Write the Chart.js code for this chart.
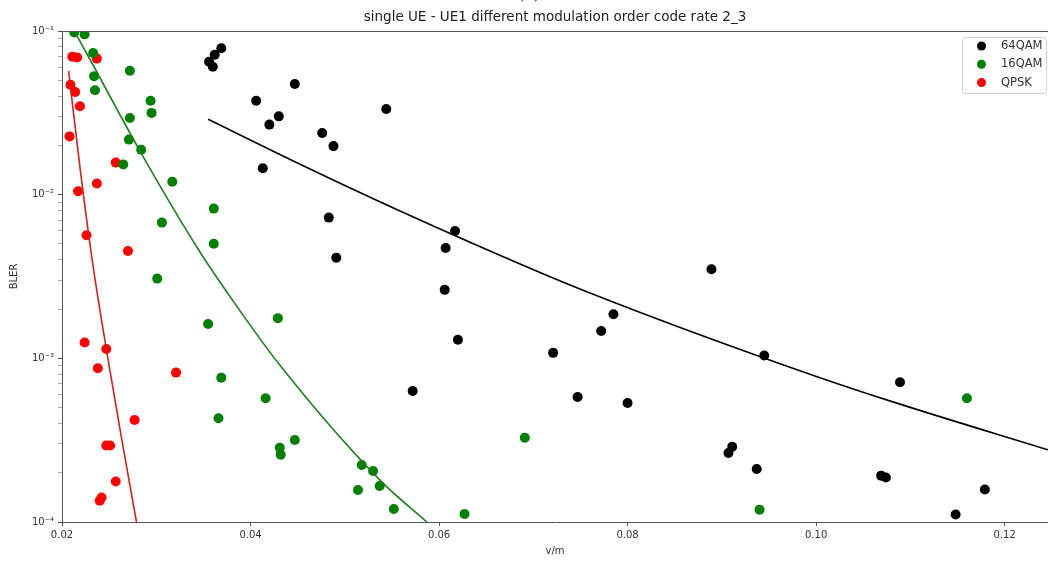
<!DOCTYPE html>
<html>
<head>
<meta charset="utf-8">
<script src="https://cdn.jsdelivr.net/npm/chart.js@4.4.1/dist/chart.umd.min.js"></script>
<style>
html, body { margin: 0; padding: 0; background: #fff; }
#wrap { width: 1048px; height: 561px; }
</style>
</head>
<body>
<div id="wrap"><canvas id="bler" width="1048" height="561"></canvas></div>
<script>
// values
var chartTitle = "single UE - UE1 different modulation order code rate 2_3";
var xTicks = [0.02, 0.04, 0.06, 0.08, 0.10, 0.12];
var yDecades = [-4, -3, -2, -1];

// 64QAM measured points
var qam64X = [0.0356, 0.0360, 0.0362, 0.0369, 0.0406, 0.0447, 0.0420, 0.0430, 0.0476, 0.0488,
              0.0413, 0.0483, 0.0491, 0.0544, 0.0617, 0.0607, 0.0606, 0.0620, 0.0572, 0.0721,
              0.0747, 0.0772, 0.0785, 0.0800, 0.0889, 0.0945, 0.1089, 0.0911, 0.0907, 0.0937,
              0.1069, 0.1074, 0.1179, 0.1148];
var qam64Y = [0.0649, 0.0605, 0.0716, 0.0784, 0.0375, 0.0474, 0.0268, 0.0301, 0.0238, 0.0198,
              0.0145, 0.00724, 0.00412, 0.0334, 0.0060, 0.00472, 0.00262, 0.0013, 0.000632, 0.00108,
              0.000581, 0.00147, 0.00186, 0.000534, 0.0035, 0.00104, 0.000714, 0.000288, 0.000264, 0.000211,
              0.000192, 0.000187, 0.000158, 0.000111];

// 16QAM measured points
var qam16X = [0.0213, 0.0224, 0.0233, 0.0234, 0.0235, 0.0272, 0.0294, 0.0295, 0.0272, 0.0271,
              0.0284, 0.0265, 0.0317, 0.0361, 0.0306, 0.0361, 0.0301, 0.0355, 0.0429, 0.0369,
              0.0416, 0.0366, 0.0447, 0.0431, 0.0432, 0.0518, 0.0530, 0.0514, 0.0537, 0.0552,
              0.0627, 0.0691, 0.0940, 0.1160];
var qam16Y = [0.098, 0.0954, 0.0734, 0.0529, 0.0434, 0.0572, 0.0375, 0.0316, 0.0294, 0.0217,
              0.0188, 0.0153, 0.0120, 0.00822, 0.00675, 0.00502, 0.00307, 0.00162, 0.00176, 0.000762,
              0.00057, 0.00043, 0.000317, 0.000284, 0.000258, 0.000223, 0.000205, 0.000157, 0.000166, 0.00012,
              0.000112, 0.000327, 0.000119, 0.00057];

// QPSK measured points
var qpskX = [0.0211, 0.0216, 0.0237, 0.0209, 0.0214, 0.0219, 0.0208, 0.0257, 0.0237, 0.0217,
             0.0226, 0.0270, 0.0224, 0.0247, 0.0238, 0.0321, 0.0277, 0.0247, 0.0251, 0.0257,
             0.0242, 0.0240];
var qpskY = [0.0697, 0.069, 0.0678, 0.047, 0.0424, 0.0347, 0.0227, 0.0157, 0.0117, 0.0105,
             0.00565, 0.00453, 0.00125, 0.00114, 0.00087, 0.000818, 0.00042, 0.000293, 0.000293, 0.000177,
             0.000141, 0.000135];

// fitted curves
var fit64X = [0.0355, 0.0452, 0.0558, 0.0707, 0.0771, 0.0855, 0.1001, 0.1089, 0.1246];
var fit64Y = [0.0289, 0.0154, 0.00798, 0.00335, 0.00237, 0.00155, 0.000773, 0.000525, 0.000276];
var fit16X = [0.0215, 0.0230, 0.0285, 0.0345, 0.0382, 0.0431, 0.0537, 0.0587];
var fit16Y = [0.0954, 0.0665, 0.0175, 0.00459, 0.00222, 0.00091, 0.000181, 0.0001];
var fitQpskX = [0.0207, 0.0219, 0.0232, 0.0247, 0.0262, 0.0279];
var fitQpskY = [0.057, 0.0148, 0.0040, 0.00114, 0.000355, 0.0001];

function pairs(xs, ys) {
    return xs.map(function (x, i) { return { x: x, y: ys[i] }; });
}

var sup = { "-": "\u207B", "1": "\u00B9", "2": "\u00B2", "3": "\u00B3", "4": "\u2074" };
function powLabel(e) {
    return "10" + String(e).split("").map(function (c) { return sup[c]; }).join("");
}

var fontName = "'DejaVu Sans', sans-serif";
var axisColor = "#555";
var textColor = "#333";

function scatterSet(label, xs, ys, color) {
    return {
        label: label, data: pairs(xs, ys), showLine: false,
        pointRadius: 5, pointHoverRadius: 5, pointBorderWidth: 0,
        backgroundColor: color, borderColor: color, order: 2
    };
}
function fitSet(xs, ys, color) {
    return {
        label: "", fit: true, data: pairs(xs, ys), showLine: true,
        pointRadius: 0, borderWidth: 1.6, borderColor: color, backgroundColor: color,
        cubicInterpolationMode: "monotone", order: 1
    };
}

// title over the axes, top spine, cropped caption and the boxed legend
var extras = {
    id: "extras",
    afterDraw: function (chart) {
        var ctx = chart.ctx, a = chart.chartArea;
        ctx.save();
        ctx.strokeStyle = axisColor;
        ctx.lineWidth = 1;
        ctx.beginPath();
        ctx.moveTo(a.left, a.top + 0.5);
        ctx.lineTo(a.right, a.top + 0.5);
        ctx.stroke();

        ctx.fillStyle = "#222";
        ctx.textAlign = "center";
        ctx.textBaseline = "middle";
        ctx.font = "13.5px " + fontName;
        ctx.fillText(chartTitle, (a.left + a.right) / 2, 17);

        ctx.textBaseline = "alphabetic";
        ctx.font = "16px 'DejaVu Serif', serif";
        ctx.fillText("(a)", 529, -1);

        var items = chart.data.datasets.filter(function (d) { return !d.fit; });
        var bx = 962, by = 37, bw = 84, bh = 56;
        ctx.fillStyle = "rgba(255,255,255,0.85)";
        ctx.strokeStyle = "#d0d0d0";
        ctx.beginPath();
        ctx.roundRect(bx + 0.5, by + 0.5, bw, bh, 3);
        ctx.fill();
        ctx.stroke();
        ctx.font = "11.5px " + fontName;
        ctx.textAlign = "left";
        ctx.textBaseline = "middle";
        items.forEach(function (d, i) {
            var cy = by + 9 + i * 18.3;
            ctx.fillStyle = d.backgroundColor;
            ctx.beginPath();
            ctx.arc(981.5, cy, 4.5, 0, Math.PI * 2);
            ctx.fill();
            ctx.fillStyle = textColor;
            ctx.fillText(d.label, 1001, cy);
        });
        ctx.restore();
    }
};

var blerChart = new Chart(document.getElementById("bler"), {
    type: "scatter",
    data: {
        datasets: [
            scatterSet("64QAM", qam64X, qam64Y, "#000000"),
            scatterSet("16QAM", qam16X, qam16Y, "#008000"),
            scatterSet("QPSK", qpskX, qpskY, "#ff0000"),
            fitSet(fit64X, fit64Y, "#000000"),
            fitSet(fit16X, fit16Y, "#1f7f1f"),
            fitSet(fitQpskX, fitQpskY, "#d42020")
        ]
    },
    options: {
        responsive: false,
        animation: false,
        events: [],
        layout: { padding: { top: 31, left: 0, right: 0, bottom: 0 }, autoPadding: false },
        plugins: {
            legend: { display: false },
            tooltip: { enabled: false },
            title: { display: false }
        },
        scales: {
            x: {
                type: "linear", min: 0.02, max: 0.1246,
                afterBuildTicks: function (s) { s.ticks = xTicks.map(function (v) { return { value: v }; }); },
                afterFit: function (s) { s.height = 39; },
                ticks: {
                    callback: function (v) { return v.toFixed(2); },
                    font: { family: fontName, size: 10 }, color: textColor,
                    padding: 3, maxRotation: 0, autoSkip: false
                },
                grid: { drawOnChartArea: false, tickLength: 4, tickColor: axisColor },
                border: { color: axisColor, width: 1 },
                title: {
                    display: true, text: "v/m", color: textColor,
                    font: { family: fontName, size: 10 }, padding: { top: 0, bottom: 4 }
                }
            },
            y: {
                type: "logarithmic", min: 1e-4, max: 1e-1,
                afterBuildTicks: function (s) {
                    var t = [];
                    yDecades.forEach(function (e) {
                        for (var m = 1; m <= 9; m++) {
                            if (e === -1 && m > 1) break;
                            t.push({ value: m * Math.pow(10, e), major: m === 1 });
                        }
                    });
                    s.ticks = t;
                },
                afterFit: function (s) { s.width = 62; },
                ticks: {
                    callback: function (v) {
                        var e = Math.round(Math.log10(v));
                        return Math.abs(v / Math.pow(10, e) - 1) < 1e-6 ? powLabel(e) : "";
                    },
                    font: { family: fontName, size: 10 }, color: textColor,
                    padding: 4, autoSkip: false
                },
                grid: {
                    drawOnChartArea: false, tickLength: 4,
                    tickColor: function (c) { return c.tick && c.tick.major ? axisColor : "#888"; },
                    tickWidth: function (c) { return c.tick && c.tick.major ? 1 : 0.7; }
                },
                border: { color: axisColor, width: 1 },
                title: {
                    display: true, text: "BLER", color: textColor,
                    font: { family: fontName, size: 10 }, padding: { top: 8, bottom: 0 }
                }
            }
        }
    },
    plugins: [extras]
});
</script>
</body>
</html>
